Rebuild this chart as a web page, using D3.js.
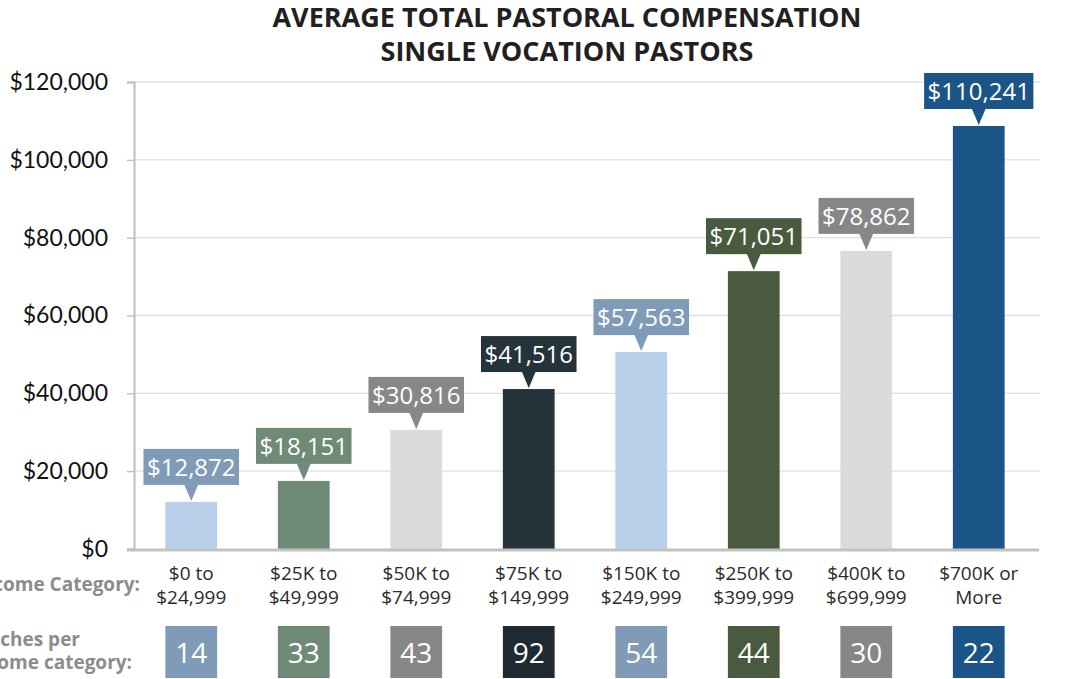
<!DOCTYPE html>
<html>
<head>
<meta charset="utf-8">
<script src="https://cdn.jsdelivr.net/npm/d3@7"></script>
<style>
    body { margin: 0; background: #fff; }
    svg { display: block; }
</style>
</head>
<body>
<svg id="chart"></svg>
<script>
// income categories (two lines each)
const categories = [
    ["$0 to", "$24,999"],
    ["$25K to", "$49,999"],
    ["$50K to", "$74,999"],
    ["$75K to", "$149,999"],
    ["$150K to", "$249,999"],
    ["$250K to", "$399,999"],
    ["$400K to", "$699,999"],
    ["$700K or", "More"],
];
// bar heights as drawn in the picture (they don't all match the printed labels)
const barValues = [12100, 17500, 30600, 41100, 50600, 71400, 76600, 108700];
const calloutLabels = ["$12,872", "$18,151", "$30,816", "$41,516", "$57,563", "$71,051", "$78,862", "$110,241"];
const churchCounts = [14, 33, 43, 92, 54, 44, 30, 22];
const yTicks = [0, 20000, 40000, 60000, 80000, 100000, 120000];

const barColors = ["#b8cfea", "#6f8a76", "#dadbdd", "#25333b", "#b8cfea", "#4a5a3e", "#dadbdd", "#1b5587"];
const calloutColors = ["#7f9bb8", "#6f8a76", "#878787", "#25333b", "#7f9bb8", "#4a5a3e", "#878787", "#1b5587"];
const countColors = ["#7f9bb8", "#6f8a76", "#878787", "#1f2a33", "#7f9bb8", "#4a5a3e", "#878787", "#1b5587"];

const width = 1073, height = 679;
const svg = d3.select("#chart").attr("width", width).attr("height", height);

const xScale = d3.scaleBand()
    .domain(d3.range(categories.length))
    .range([135, 1035])
    .paddingInner(0.54)
    .paddingOuter(0.27);

const yScale = d3.scaleLinear()
    .domain([0, 120000])
    .range([549, 82]);

const sans = "'Open Sans', 'Noto Sans', sans-serif";

// title
svg.append("g")
    .selectAll("text")
    .data(["AVERAGE TOTAL PASTORAL COMPENSATION", "SINGLE VOCATION PASTORS"])
    .join("text")
    .attr("x", 567)
    .attr("y", (d, i) => 27 + i * 34)
    .attr("text-anchor", "middle")
    .style("font-family", sans)
    .style("font-weight", "bold")
    .style("font-size", "27px")
    .attr("fill", "#231f20")
    .text((d) => d);

// gridlines
svg.append("g")
    .selectAll("line")
    .data(yTicks.filter((d) => d > 0))
    .join("line")
    .attr("x1", 134)
    .attr("x2", 1040)
    .attr("y1", (d) => yScale(d))
    .attr("y2", (d) => yScale(d))
    .attr("stroke", "#e0e0e0")
    .attr("stroke-width", 1.3);

// y axis
const yAxis = svg.append("g")
    .attr("transform", "translate(134,0)")
    .call(d3.axisLeft(yScale).tickValues(yTicks).tickSize(7).tickPadding(19)
        .tickFormat((d) => "$" + d3.format(",")(d)));
yAxis.select(".domain").attr("stroke", "#bdbdbd").attr("stroke-width", 2);
yAxis.selectAll(".tick line").attr("stroke", "#bdbdbd").attr("stroke-width", 1.3);
yAxis.selectAll(".tick text")
    .style("font-family", "Lato, 'Open Sans', sans-serif")
    .style("font-size", "23px")
    .attr("fill", "#111");

// bars
svg.append("g")
    .selectAll("rect")
    .data(barValues)
    .join("rect")
    .attr("x", (d, i) => xScale(i))
    .attr("y", (d) => yScale(d))
    .attr("width", xScale.bandwidth())
    .attr("height", (d) => yScale(0) - yScale(d))
    .attr("fill", (d, i) => barColors[i]);

// x axis line
svg.append("line")
    .attr("x1", 127)
    .attr("x2", 1039)
    .attr("y1", 550)
    .attr("y2", 550)
    .attr("stroke", "#c2c2c2")
    .attr("stroke-width", 3);

// callouts
const callouts = svg.append("g")
    .selectAll("g")
    .data(barValues)
    .join("g")
    .attr("transform", (d, i) => `translate(${xScale(i) + xScale.bandwidth() / 2}, ${yScale(d)})`);

callouts.append("text")
    .attr("x", 0)
    .attr("y", -26)
    .attr("text-anchor", "middle")
    .style("font-family", sans)
    .style("font-size", "24px")
    .attr("fill", "#fff")
    .text((d, i) => calloutLabels[i]);

callouts.each(function (d, i) {
    const g = d3.select(this);
    const tw = g.select("text").node().getComputedTextLength();
    const w = tw + 7;
    g.insert("rect", "text")
        .attr("x", -w / 2)
        .attr("y", -17 - 36)
        .attr("width", w)
        .attr("height", 36)
        .attr("fill", calloutColors[i]);
    g.insert("path", "text")
        .attr("d", "M-7,-17.5 L7,-17.5 L0,-1 Z")
        .attr("fill", calloutColors[i]);
});

// category labels, one text per line
const catLabels = svg.append("g")
    .selectAll("g")
    .data(categories)
    .join("g")
    .attr("transform", (d, i) => `translate(${xScale(i) + xScale.bandwidth() / 2}, 580)`);
catLabels.selectAll("text")
    .data((d) => d)
    .join("text")
    .attr("y", (d, i) => i * 24)
    .attr("text-anchor", "middle")
    .style("font-family", sans)
    .style("font-size", "19px")
    .attr("fill", "#2b2b2b")
    .text((d) => d);

// church count boxes
const counts = svg.append("g")
    .selectAll("g")
    .data(churchCounts)
    .join("g")
    .attr("transform", (d, i) => `translate(${xScale(i)}, 626)`);
counts.append("rect")
    .attr("width", xScale.bandwidth())
    .attr("height", 52)
    .attr("fill", (d, i) => countColors[i]);
counts.append("text")
    .attr("x", xScale.bandwidth() / 2)
    .attr("y", 37)
    .attr("text-anchor", "middle")
    .style("font-family", sans)
    .style("font-size", "28px")
    .attr("fill", "#fff")
    .text((d) => d);

// row labels on the left (cut off by the page edge like the original)
const rowLabels = [["Income Category:", 140, 591], ["Churches per", 80, 646], ["income category:", 132, 669]];
svg.append("g")
    .selectAll("text")
    .data(rowLabels)
    .join("text")
    .attr("x", (d) => d[1])
    .attr("y", (d) => d[2])
    .attr("text-anchor", "end")
    .style("font-family", sans)
    .style("font-weight", "bold")
    .style("font-size", "19px")
    .attr("fill", "#8c8c8c")
    .text((d) => d[0]);
</script>
</body>
</html>
